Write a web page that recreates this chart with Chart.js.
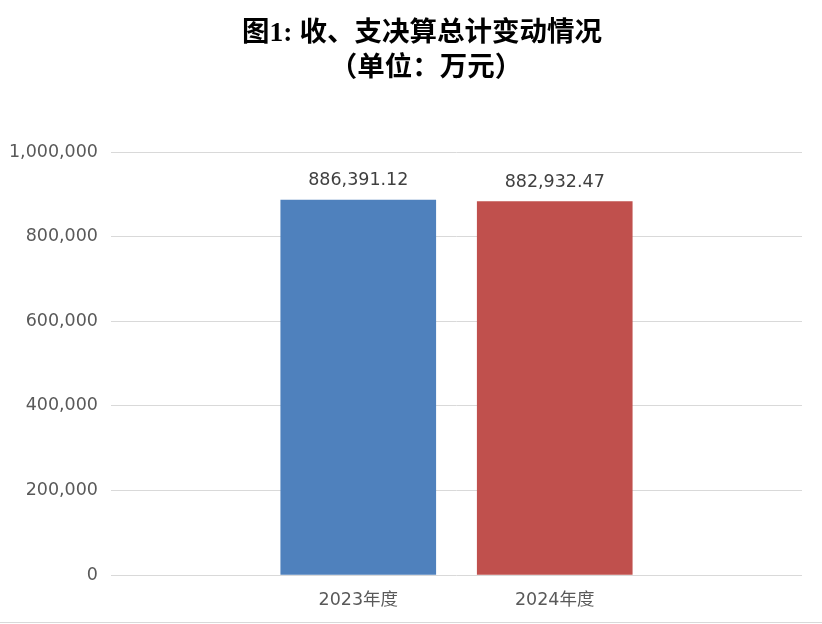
<!DOCTYPE html>
<html>
<head>
<meta charset="utf-8">
<script src="https://cdn.jsdelivr.net/npm/chart.js@4.4.1/dist/chart.umd.min.js"></script>
<style>
  html, body { margin: 0; padding: 0; background: #fff; }
  #wrap { width: 822px; height: 624px; position: relative; }
</style>
</head>
<body>
<div id="wrap"><canvas id="chart"></canvas></div>
<script>
const titleLines = ['图1: 收、支决算总计变动情况', '（单位：万元）'];
const categories = ['2023年度', '2024年度'];
const totals = [886391.12, 882932.47];
const barColors = ['#4F81BD', '#C0504D'];
const yTicks = [0, 200000, 400000, 600000, 800000, 1000000];

const tickFont = { family: '"DejaVu Sans", "Noto Sans CJK SC", sans-serif', size: 17.5 };

// title, value labels and the bottom frame line
const decorations = {
  id: 'decorations',
  afterDatasetsDraw(chart) {
    const ctx = chart.ctx;
    const meta = chart.getDatasetMeta(0);
    ctx.save();
    ctx.font = '17.5px "DejaVu Sans", sans-serif';
    ctx.fillStyle = '#404040';
    ctx.textAlign = 'center';
    ctx.textBaseline = 'alphabetic';
    meta.data.forEach(function (bar, i) {
      const txt = totals[i].toLocaleString('en-US', { minimumFractionDigits: 2, maximumFractionDigits: 2 });
      ctx.fillText(txt, bar.x, bar.y - 15);
    });
    ctx.restore();
  },
  afterDraw(chart) {
    const ctx = chart.ctx;
    ctx.save();
    ctx.font = 'bold 27.5px "Liberation Serif", "Noto Sans CJK SC", serif';
    ctx.fillStyle = '#000';
    ctx.textAlign = 'center';
    ctx.textBaseline = 'middle';
    ctx.fillText(titleLines[0], 422, 34);
    ctx.fillText(titleLines[1], 426, 69);
    ctx.strokeStyle = '#d9d9d9';
    ctx.lineWidth = 1;
    ctx.beginPath();
    ctx.moveTo(0, 622.5);
    ctx.lineTo(chart.width, 622.5);
    ctx.stroke();
    ctx.restore();
  }
};

new Chart(document.getElementById('chart'), {
  type: 'bar',
  data: {
    datasets: [{
      data: totals.map(function (v, i) { return { x: i + 1, y: v }; }),
      backgroundColor: barColors,
      barThickness: 155,
      borderWidth: 0
    }]
  },
  options: {
    responsive: true,
    maintainAspectRatio: false,
    animation: false,
    layout: { padding: { top: 152, right: 20, bottom: 0, left: 0 } },
    plugins: { legend: { display: false }, tooltip: { enabled: false }, title: { display: false } },
    scales: {
      x: {
        type: 'linear',
        offset: false,
        min: -0.2585,
        max: 3.2585,
        grid: { display: false, offset: false },
        border: { display: false },
        afterBuildTicks: function (scale) {
          scale.ticks = categories.map(function (c, i) { return { value: i + 1 }; });
        },
        afterFit: function (scale) { scale.height = 49; },
        ticks: {
          color: '#595959',
          font: tickFont,
          padding: 7,
          maxRotation: 0,
          autoSkip: false,
          callback: function (v) { return categories[v - 1]; }
        }
      },
      y: {
        min: 0,
        max: 1000000,
        afterBuildTicks: function (scale) {
          scale.ticks = yTicks.map(function (v) { return { value: v }; });
        },
        afterFit: function (scale) { scale.width = 111; },
        grid: { color: '#d9d9d9', drawTicks: false },
        border: { display: false },
        ticks: {
          color: '#595959',
          font: tickFont,
          padding: 13,
          callback: function (v) { return v.toLocaleString('en-US'); }
        }
      }
    }
  },
  plugins: [decorations]
});
</script>
</body>
</html>
